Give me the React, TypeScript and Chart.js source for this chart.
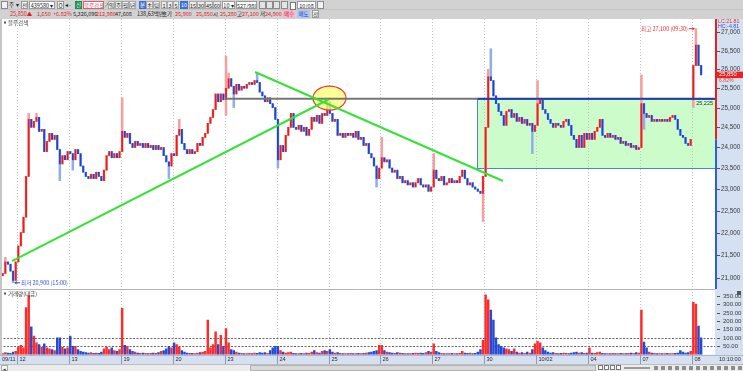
import React, { useEffect, useRef } from "react";
import { Chart, registerables } from "chart.js";

Chart.register(...registerables);

// ---------------- data ----------------
const dayLabels = ["09/11", "12", "13", "19", "20", "23", "24", "25", "26", "27", "30", "10/02", "04", "07", "08"];
const firstOpen = 21000;
// 20-minute closes per trading day
const close0911 = [21050, 21100, 21350, 21300, 21150, 20950, 21350];
const close0912 = [21700, 22000, 22350, 23300, 24700, 24500, 24650, 24750, 24400, 24450, 23900, 24150, 24350, 24200, 24300, 23950, 23600, 23800, 23700, 23900];
const close0913 = [23850, 23700, 23950, 23850, 23550, 23400, 23300, 23250, 23350, 23250, 23400, 23300, 23200, 23450, 23800, 23900, 23750, 23850, 23750, 23900];
const close0919 = [24400, 24250, 24350, 24100, 24000, 24150, 24050, 24100, 24000, 24100, 24000, 24050, 23950, 24050, 23950, 24000, 23800, 23650, 23550, 23850];
const close0920 = [23800, 24300, 24450, 24100, 23950, 23850, 23950, 23850, 23900, 24100, 24050, 24250, 24350, 24600, 24750, 24950, 25350, 25150, 25350, 25200];
const close0923 = [25500, 25750, 25550, 25350, 25600, 25450, 25550, 25500, 25600, 25650, 25600, 25700, 25650, 25400, 25300, 25150, 25250, 25100, 25000, 24700];
const close0924 = [23700, 24050, 23900, 24300, 24500, 24850, 24500, 24450, 24550, 24400, 24500, 24300, 24450, 24750, 24650, 24800, 24600, 24850, 24800, 25150];
const close0925 = [24850, 24650, 24700, 24300, 24350, 24250, 24350, 24300, 24350, 24250, 24400, 24200, 24250, 24050, 24100, 23850, 23750, 23550, 23250, 23500];
const close0926 = [23750, 23650, 23700, 23500, 23400, 23450, 23250, 23300, 23150, 23200, 23100, 23150, 23050, 23150, 23250, 23100, 23050, 23100, 22950, 23050];
const close0927 = [23450, 23250, 23200, 23300, 23100, 23150, 23250, 23150, 23200, 23150, 23300, 23450, 23250, 23100, 23150, 23050, 23000, 22950, 22900, 23300];
const close0930 = [24500, 25800, 25700, 25300, 25100, 24900, 24800, 24550, 24900, 24950, 24750, 24850, 24650, 24750, 24600, 24700, 24550, 24600, 24400, 24550];
const close1002 = [25100, 25200, 24950, 24850, 24700, 24600, 24500, 24600, 24550, 24500, 24650, 24700, 24550, 24300, 24200, 24000, 24300, 24000, 24350, 24200];
const close1004 = [24350, 24200, 24400, 24500, 24700, 24300, 24250, 24350, 24250, 24300, 24200, 24250, 24100, 24150, 24050, 24100, 24000, 24050, 23950, 24000];
const close1007 = [25100, 24850, 24750, 24800, 24650, 24700, 24650, 24700, 24650, 24700, 24650, 24750, 24800, 24700, 24450, 24300, 24250, 24100, 24050, 24200];
const close1008 = [26100, 26650, 26100, 25850];

// [bar index, value]
const openOverrides: [number, number][] = [[267, 25200]];
const wickHighs: [number, number][] = [
  [2, 21450], [11, 24850], [14, 24850], [47, 25250], [69, 24700], [87, 26350], [88, 25900], [99, 25900],
  [126, 25250], [147, 24250], [167, 23850], [188, 26000], [189, 26550], [207, 25700], [247, 25850], [268, 27100],
];
const wickLows: [number, number][] = [
  [5, 20900], [23, 23200], [28, 23450], [65, 23250], [87, 24800], [90, 25000], [107, 23500], [145, 23050],
  [186, 22250], [205, 23850], [248, 24450], [267, 25000],
];

// volume (거래량 대금) per 20-minute bar
const vol0911 = [8, 6, 12, 10, 8, 15, 20];
const vol0912 = [45, 55, 40, 280, 350, 165, 110, 70, 60, 45, 65, 40, 35, 30, 25, 100, 100, 45, 35, 40];
const vol0913 = [110, 50, 50, 30, 20, 15, 12, 10, 12, 8, 10, 8, 15, 35, 45, 30, 40, 25, 20, 30];
const vol0919 = [275, 55, 50, 30, 20, 15, 10, 8, 10, 8, 6, 8, 10, 8, 12, 20, 25, 35, 50, 40];
const vol0920 = [70, 60, 45, 25, 15, 10, 8, 8, 6, 10, 12, 15, 20, 205, 40, 60, 135, 60, 115, 50];
const vol0923 = [155, 70, 30, 25, 15, 10, 8, 6, 5, 8, 6, 10, 8, 12, 10, 12, 8, 25, 40, 50];
const vol0924 = [50, 25, 15, 10, 12, 15, 8, 6, 5, 8, 6, 10, 8, 15, 25, 12, 10, 20, 25, 20];
const vol0925 = [30, 15, 10, 12, 8, 5, 6, 5, 8, 6, 5, 8, 6, 8, 10, 12, 15, 20, 25, 55];
const vol0926 = [55, 25, 15, 12, 10, 8, 12, 10, 8, 6, 5, 6, 8, 10, 8, 10, 8, 12, 20, 15];
const vol0927 = [65, 20, 12, 8, 6, 5, 6, 8, 5, 6, 8, 20, 10, 8, 10, 6, 8, 15, 30, 85];
const vol0930 = [355, 325, 265, 205, 100, 60, 50, 40, 35, 30, 20, 35, 15, 10, 12, 8, 15, 10, 30, 65];
const vol1002 = [80, 70, 40, 25, 15, 10, 12, 8, 6, 8, 10, 8, 6, 10, 12, 15, 10, 12, 8, 10];
const vol1004 = [40, 10, 8, 12, 15, 8, 6, 5, 6, 8, 5, 6, 8, 5, 6, 8, 10, 8, 12, 10];
const vol1007 = [265, 75, 40, 15, 10, 8, 6, 5, 6, 5, 8, 6, 5, 8, 10, 25, 15, 10, 12, 20];
const vol1008 = [310, 300, 170, 100];

const priceTicks = [21000, 21500, 22000, 22500, 23000, 23500, 24000, 24500, 25000, 25500, 26000, 26500, 27000];
const volumeTicks = [50, 100, 150, 200, 250, 300, 350];
const volumeGuides = [50, 100];

// drawings (bar index, price)
const boxTopPrice = 25225;
const boxBottomPrice = 23500;
const boxStartBar = 184.3;
const resistanceStartBar = 87.1;
const upTrendStart = [5.07, 21368];
const upTrendEnd = [126.98, 25207];
const downTrendStart = [98.67, 25926];
const downTrendEnd = [194.19, 23191];
const ellipseCenter = [127.37, 25245];
const lowPoint = [5.5, 20900];
const highPoint = [268.5, 27100];
const lastPrice = 25850;
const prevClose = 24200;

// ---------------- helpers ----------------
const dayCloses = [close0911, close0912, close0913, close0919, close0920, close0923, close0924, close0925, close0926, close0927, close0930, close1002, close1004, close1007, close1008];
const dayVols = [vol0911, vol0912, vol0913, vol0919, vol0920, vol0923, vol0924, vol0925, vol0926, vol0927, vol0930, vol1002, vol1004, vol1007, vol1008];

const dayStart = (d: number) => (d === 0 ? 0 : 7 + 20 * (d - 1));

type Bar = { x: number; o: number; h: number; l: number; c: number; v: number };
function buildBars(): Bar[] {
  const out: Bar[] = [];
  let prev = firstOpen;
  dayCloses.forEach((closes, d) => {
    closes.forEach((c, j) => {
      const i = dayStart(d) + j;
      const ov = openOverrides.find((e) => e[0] === i);
      const o = ov ? ov[1] : prev;
      let h = Math.max(o, c);
      let l = Math.min(o, c);
      const wh = wickHighs.find((e) => e[0] === i);
      if (wh) h = Math.max(h, wh[1]);
      const wl = wickLows.find((e) => e[0] === i);
      if (wl) l = Math.min(l, wl[1]);
      out.push({ x: i + 0.5, o, h, l, c, v: dayVols[d][j] });
      prev = c;
    });
  });
  return out;
}

const X_MIN = 0.452;
const X_MAX = 275.85;
const P_MIN = 20788;
const P_MAX = 27342;
const V_MAX = 383.6;

const UP = "#f01c1c";
const DOWN = "#1e44d4";
const UP_L = "#f5a0a0";
const DOWN_L = "#90aeec";
const AXIS_BG = "#d5e1f0";
const NUM_FONT = '"Liberation Sans", Arial, sans-serif';
const KR_FONT = '"Noto Sans CJK KR", "Liberation Sans", sans-serif';

function seg(ctx: CanvasRenderingContext2D, x1: number, y1: number, x2: number, y2: number) {
  ctx.beginPath();
  ctx.moveTo(x1, y1);
  ctx.lineTo(x2, y2);
  ctx.stroke();
}

const pricePlugin = {
  id: "priceDecor",
  beforeDatasetsDraw(chart: any) {
    const { ctx, chartArea: a, scales } = chart;
    const x = scales.x;
    const y = scales.y;
    ctx.save();
    const bx = x.getPixelForValue(boxStartBar);
    const bt = y.getPixelForValue(boxTopPrice);
    const bb = y.getPixelForValue(boxBottomPrice);
    ctx.fillStyle = "#cdfccb";
    ctx.fillRect(bx, bt, a.right - bx, bb - bt);
    ctx.strokeStyle = "#c2c2c2";
    ctx.lineWidth = 1;
    ctx.setLineDash([1, 2]);
    for (let d = 1; d < dayLabels.length; d++) {
      const gx = Math.round(x.getPixelForValue(dayStart(d))) + 0.5;
      seg(ctx, gx, 0, gx, chart.height);
    }
    ctx.setLineDash([]);
    ctx.strokeStyle = "#4f7df2";
    ctx.lineWidth = 1;
    ctx.strokeRect(Math.round(bx) + 0.5, Math.round(bt) + 0.5, a.right - Math.round(bx), Math.round(bb - bt));
    ctx.restore();
  },
  afterDatasetsDraw(chart: any) {
    const { ctx, chartArea: a, scales } = chart;
    const x = scales.x;
    const y = scales.y;
    ctx.save();
    const ex = x.getPixelForValue(ellipseCenter[0]);
    const ey = y.getPixelForValue(ellipseCenter[1]);
    ctx.beginPath();
    ctx.ellipse(ex, ey, 16.5, 12, 0, 0, Math.PI * 2);
    ctx.fillStyle = "rgba(255,255,120,0.78)";
    ctx.fill();
    ctx.strokeStyle = "#ec3a3a";
    ctx.lineWidth = 1.2;
    ctx.stroke();
    const bx = x.getPixelForValue(boxStartBar);
    const bt = y.getPixelForValue(boxTopPrice);
    const rx = x.getPixelForValue(resistanceStartBar);
    ctx.lineWidth = 2;
    ctx.strokeStyle = "#767676";
    seg(ctx, rx, bt, bx, bt);
    ctx.strokeStyle = "#1f3fa6";
    seg(ctx, bx, bt, a.right, bt);
    ctx.strokeStyle = "#35e335";
    ctx.lineWidth = 2;
    seg(ctx, x.getPixelForValue(upTrendStart[0]), y.getPixelForValue(upTrendStart[1]), x.getPixelForValue(upTrendEnd[0]), y.getPixelForValue(upTrendEnd[1]));
    seg(ctx, x.getPixelForValue(downTrendStart[0]), y.getPixelForValue(downTrendStart[1]), x.getPixelForValue(downTrendEnd[0]), y.getPixelForValue(downTrendEnd[1]));
    ctx.fillStyle = "#2c2c2c";
    ctx.font = `5.5px ${NUM_FONT}`;
    ctx.textAlign = "right";
    ctx.textBaseline = "middle";
    ctx.fillText(boxTopPrice.toLocaleString("en-US"), a.right - 2, bt + 5);
    const hx = x.getPixelForValue(highPoint[0]);
    const hy = y.getPixelForValue(highPoint[1]);
    ctx.fillStyle = "#f03030";
    ctx.strokeStyle = "#f03030";
    ctx.lineWidth = 1;
    ctx.font = `5.5px ${KR_FONT}`;
    ctx.fillText("최고 27,100 (09:30)", hx - 8, hy);
    seg(ctx, hx - 7, hy, hx - 2, hy);
    ctx.beginPath();
    ctx.moveTo(hx - 1, hy);
    ctx.lineTo(hx - 3.5, hy - 1.8);
    ctx.lineTo(hx - 3.5, hy + 1.8);
    ctx.closePath();
    ctx.fill();
    const lx = x.getPixelForValue(lowPoint[0]);
    const ly = y.getPixelForValue(lowPoint[1]);
    ctx.fillStyle = "#3050e0";
    ctx.strokeStyle = "#3050e0";
    ctx.textAlign = "left";
    ctx.fillText("최저 20,900 (15:00)", lx + 8, ly);
    seg(ctx, lx + 2, ly, lx + 7, ly);
    ctx.beginPath();
    ctx.moveTo(lx + 1, ly);
    ctx.lineTo(lx + 3.5, ly - 1.8);
    ctx.lineTo(lx + 3.5, ly + 1.8);
    ctx.closePath();
    ctx.fill();
    ctx.fillStyle = "#555";
    ctx.fillRect(4, 2.5, 2, 2);
    ctx.fillStyle = "#333";
    ctx.fillText("블루검색", 8, 4);
    ctx.restore();
  },
  afterDraw(chart: any) {
    const { ctx, chartArea: a, scales } = chart;
    const y = scales.y;
    ctx.save();
    ctx.fillStyle = AXIS_BG;
    ctx.fillRect(a.right, 0, chart.width - a.right, chart.height);
    const split = y.getPixelForValue(prevClose);
    ctx.lineWidth = 2;
    ctx.strokeStyle = "#ea2020";
    seg(ctx, a.right + 1, 0, a.right + 1, split);
    ctx.strokeStyle = "#2b5de6";
    seg(ctx, a.right + 1, split, a.right + 1, chart.height);
    ctx.font = `6.3px ${NUM_FONT}`;
    ctx.textBaseline = "middle";
    ctx.textAlign = "left";
    ctx.lineWidth = 1;
    priceTicks.forEach((p) => {
      const py = Math.round(y.getPixelForValue(p)) + 0.5;
      ctx.strokeStyle = "#555";
      seg(ctx, a.right + 2, py, a.right + 5, py);
      ctx.fillStyle = "#3a3a3a";
      ctx.fillText(p.toLocaleString("en-US"), a.right + 6, py);
    });
    ctx.font = `5.3px ${NUM_FONT}`;
    ctx.fillStyle = "#e03030";
    ctx.fillText("LC:21.81", a.right + 3, 3);
    ctx.fillStyle = "#3050e0";
    ctx.fillText("HC:-4.81", a.right + 3, 8);
    const ty = y.getPixelForValue(lastPrice);
    ctx.fillStyle = "#f02020";
    ctx.fillRect(a.right + 2, ty - 3.2, 26, 6.4);
    ctx.fillStyle = "#fff";
    ctx.font = `5.8px ${NUM_FONT}`;
    ctx.fillText(lastPrice.toLocaleString("en-US"), a.right + 4, ty);
    ctx.fillStyle = "#e04848";
    ctx.font = `5.2px ${NUM_FONT}`;
    ctx.fillText("6.82%", a.right + 4, ty + 6);
    ctx.restore();
  },
};

const volumePlugin = {
  id: "volDecor",
  beforeDatasetsDraw(chart: any) {
    const { ctx, chartArea: a, scales } = chart;
    const x = scales.x;
    const y = scales.y;
    ctx.save();
    ctx.strokeStyle = "#c2c2c2";
    ctx.lineWidth = 1;
    ctx.setLineDash([1, 2]);
    for (let d = 1; d < dayLabels.length; d++) {
      const gx = Math.round(x.getPixelForValue(dayStart(d))) + 0.5;
      seg(ctx, gx, 0, gx, a.bottom);
    }
    ctx.strokeStyle = "#666";
    ctx.setLineDash([2, 1.5]);
    volumeGuides.forEach((v) => {
      const gy = Math.round(y.getPixelForValue(v)) + 0.5;
      seg(ctx, a.left, gy, a.right, gy);
    });
    ctx.restore();
  },
  afterDraw(chart: any) {
    const { ctx, chartArea: a, scales } = chart;
    const x = scales.x;
    const y = scales.y;
    ctx.save();
    ctx.fillStyle = AXIS_BG;
    ctx.fillRect(a.right, 0, chart.width - a.right, chart.height);
    ctx.fillRect(0, a.bottom, chart.width, chart.height - a.bottom);
    ctx.strokeStyle = "#a9b8cc";
    ctx.lineWidth = 1;
    seg(ctx, 0, Math.round(a.bottom) + 0.5, chart.width, Math.round(a.bottom) + 0.5);
    ctx.strokeStyle = "#b4b4b4";
    seg(ctx, 0, 0.5, a.right, 0.5);
    ctx.textBaseline = "middle";
    ctx.textAlign = "left";
    ctx.font = `6px ${NUM_FONT}`;
    volumeTicks.forEach((v) => {
      const vy = Math.round(y.getPixelForValue(v)) + 0.5;
      ctx.strokeStyle = "#555";
      seg(ctx, a.right + 2, vy, a.right + 5, vy);
      ctx.fillStyle = "#3a3a3a";
      ctx.fillText(v.toFixed(2), a.right + 8, vy);
    });
    ctx.fillStyle = "#555";
    ctx.fillRect(chart.width - 6, 2, 4, 4);
    const rowMid = (a.bottom + chart.height) / 2;
    ctx.font = `5.6px ${NUM_FONT}`;
    dayLabels.forEach((lab, d) => {
      const gx = d === 0 ? 0 : Math.round(x.getPixelForValue(dayStart(d))) + 0.5;
      if (d > 0) {
        ctx.strokeStyle = "#8b9bb3";
        seg(ctx, gx, a.bottom, gx, chart.height);
      }
      ctx.fillStyle = "#2e2e2e";
      ctx.fillText(lab, gx + 2, rowMid);
    });
    ctx.fillText("10:10:00", a.right + 4, rowMid);
    ctx.fillStyle = "#555";
    ctx.fillRect(4, 3.5, 2, 2);
    ctx.fillStyle = "#333";
    ctx.font = `5.5px ${KR_FONT}`;
    ctx.fillText("거래량(대금)", 8, 5);
    ctx.restore();
  },
};

type Item = { t: string; x: number; y: number; w?: number; c?: string; bg?: string; b?: string };
const R1 = 1;
const R2 = 10;
const toolbarItems: Item[] = [
  { t: "", x: 1, y: R1, w: 7, bg: "#eef2f8", b: "#8a8a8a" },
  { t: "주", x: 9, y: R1 },
  { t: "▾", x: 16, y: R1 },
  { t: "전", x: 21, y: R1, w: 7, bg: "#f4f4f4", b: "#9a9a9a" },
  { t: "439580  ▾", x: 29, y: R1, w: 26, bg: "#fff", b: "#9a9a9a" },
  { t: "Q", x: 57, y: R1, w: 7, bg: "#f4f4f4", b: "#9a9a9a" },
  { t: "◂ -", x: 65, y: R1 },
  { t: "신", x: 75, y: R1, w: 7, bg: "#1e8c4e", c: "#fff" },
  { t: "블루검색", x: 83, y: R1, w: 21, bg: "#fff", b: "#c8687c", c: "#e03a5a" },
  { t: "↗", x: 104, y: R1, c: "#1a9a40" },
  { t: "일", x: 108, y: R1, w: 7, bg: "#ececec", b: "#a8a8a8" },
  { t: "주", x: 115, y: R1, w: 7, bg: "#ececec", b: "#a8a8a8" },
  { t: "월", x: 122, y: R1, w: 7, bg: "#ececec", b: "#a8a8a8" },
  { t: "년", x: 129, y: R1, w: 7, bg: "#ececec", b: "#a8a8a8" },
  { t: "분", x: 139, y: R1, w: 7, bg: "#3d6fd8", c: "#fff" },
  { t: "초", x: 146, y: R1, w: 7, bg: "#ececec", b: "#a8a8a8" },
  { t: "틱", x: 153, y: R1, w: 7, bg: "#ececec", b: "#a8a8a8" },
  { t: "1", x: 161, y: R1, w: 6, bg: "#ececec", b: "#a8a8a8" },
  { t: "3", x: 167, y: R1, w: 6, bg: "#ececec", b: "#a8a8a8" },
  { t: "5", x: 173, y: R1, w: 6, bg: "#ececec", b: "#a8a8a8" },
  { t: "10", x: 180, y: R1, w: 8, bg: "#3d6fd8", c: "#fff" },
  { t: "15", x: 189, y: R1, w: 8, bg: "#ececec", b: "#a8a8a8" },
  { t: "30", x: 197, y: R1, w: 8, bg: "#ececec", b: "#a8a8a8" },
  { t: "45", x: 205, y: R1, w: 8, bg: "#ececec", b: "#a8a8a8" },
  { t: "60", x: 213, y: R1, w: 8, bg: "#ececec", b: "#a8a8a8" },
  { t: "10 ▾", x: 222, y: R1, w: 13, bg: "#fff", b: "#9a9a9a" },
  { t: "527/980", x: 236, y: R1, w: 21, bg: "#fff", b: "#9a9a9a" },
  { t: "", x: 259, y: R1, w: 7, bg: "#e4e4e4", b: "#8a8a8a" },
  { t: "", x: 266, y: R1, w: 7, bg: "#e4e4e4", b: "#8a8a8a" },
  { t: "", x: 273, y: R1, w: 7, bg: "#e4e4e4", b: "#8a8a8a" },
  { t: "", x: 281, y: R1, w: 7, bg: "#e4e4e4", b: "#8a8a8a" },
  { t: "", x: 290, y: R1 + 1, w: 6, bg: "#fff", b: "#777" },
  { t: "10/08", x: 297, y: R1, w: 19, bg: "#fff", b: "#9a9a9a" },
  { t: "", x: 317, y: R1, w: 7, bg: "#eef2f8", b: "#8a8a8a" },
  { t: "25,850▲", x: 10, y: R2, c: "#e02020" },
  { t: "1,650", x: 37, y: R2, c: "#e02020" },
  { t: "+6.82%", x: 53, y: R2, c: "#e02020" },
  { t: "5,326,096", x: 73, y: R2 },
  { t: "212,980", x: 96, y: R2, c: "#e02020" },
  { t: "47,608", x: 115, y: R2 },
  { t: "138,63백만", x: 137, y: R2 },
  { t: "호가", x: 162, y: R2 },
  { t: "25,900", x: 175, y: R2, c: "#e02020" },
  { t: "25,850", x: 196, y: R2, c: "#e02020" },
  { t: "시", x: 213, y: R2 },
  { t: "25,280", x: 220, y: R2, c: "#e02020" },
  { t: "고", x: 237, y: R2 },
  { t: "27,100", x: 242, y: R2, c: "#e02020" },
  { t: "저", x: 260, y: R2 },
  { t: "24,900", x: 265, y: R2, c: "#e02020" },
  { t: "매수", x: 283, y: R2, w: 12, bg: "#f6b8c8", c: "#d02040" },
  { t: "매도", x: 297, y: R2, w: 13, bg: "#b0c8f4", c: "#2040c0" },
  { t: "정", x: 312, y: R2, w: 7, bg: "#f4f4f4", b: "#9a9a9a" },
];

function ToolItem({ it }: { it: Item }) {
  return (
    <div
      style={{
        position: "absolute",
        left: it.x,
        top: it.y,
        width: it.w,
        height: 8,
        lineHeight: "8px",
        fontSize: "5.5px",
        color: it.c ?? "#222",
        background: it.bg,
        border: it.b ? `1px solid ${it.b}` : undefined,
        boxSizing: "border-box",
        textAlign: it.w ? "center" : "left",
        whiteSpace: "nowrap",
        overflow: "hidden",
      }}
    >
      {it.t}
    </div>
  );
}

export default function App() {
  const priceRef = useRef<HTMLCanvasElement>(null);
  const volRef = useRef<HTMLCanvasElement>(null);

  useEffect(() => {
    const bars = buildBars();
    const isUp = (b: Bar) => b.c >= b.o;
    const xScale = {
      type: "linear" as const,
      min: X_MIN,
      max: X_MAX,
      display: false,
      offset: false,
      grid: { display: false, offset: false },
    };
    const price = new Chart(priceRef.current!, {
      type: "bar",
      data: {
        datasets: [
          {
            label: "body",
            data: bars.map((b) => ({ x: b.x, y: [b.o, b.c] })) as any,
            backgroundColor: bars.map((b) => (isUp(b) ? UP : DOWN)),
            barThickness: 1.2,
            minBarLength: 1,
            grouped: false,
            order: 0,
          },
          {
            label: "wick",
            data: bars.map((b) => ({ x: b.x, y: [b.l, b.h] })) as any,
            backgroundColor: bars.map((b) => (isUp(b) ? UP_L : DOWN_L)),
            barThickness: 1.9,
            minBarLength: 1,
            grouped: false,
            order: 1,
          },
        ],
      },
      options: {
        animation: false,
        responsive: false,
        events: [],
        layout: { padding: { left: 0, right: 28, top: 1, bottom: 1 } },
        plugins: { legend: { display: false }, tooltip: { enabled: false } },
        scales: {
          x: xScale as any,
          y: { type: "logarithmic", min: P_MIN, max: P_MAX, display: false },
        },
      },
      plugins: [pricePlugin],
    });
    const vol = new Chart(volRef.current!, {
      type: "bar",
      data: {
        datasets: [
          {
            label: "volume",
            data: bars.map((b) => ({ x: b.x, y: b.v })) as any,
            backgroundColor: bars.map((b) => (isUp(b) ? "#ff2a2a" : "#2449d6")),
            barThickness: 1.8,
            minBarLength: 1,
            grouped: false,
          },
        ],
      },
      options: {
        animation: false,
        responsive: false,
        events: [],
        layout: { padding: { left: 0, right: 28, top: 1, bottom: 9.3 } },
        plugins: { legend: { display: false }, tooltip: { enabled: false } },
        scales: {
          x: xScale as any,
          y: { type: "linear", min: 0, max: V_MAX, display: false },
        },
      },
      plugins: [volumePlugin],
    });
    return () => {
      price.destroy();
      vol.destroy();
    };
  }, []);

  return (
    <div
      style={{
        position: "fixed",
        left: 0,
        top: 0,
        width: 743,
        height: 371,
        background: "#fff",
        overflow: "hidden",
        fontFamily: KR_FONT,
      }}
    >
      <div style={{ position: "absolute", left: 0, top: 0, width: 743, height: 19, background: "#d2d2d2" }} />
      <div style={{ position: "absolute", left: 0, top: 9, width: 743, height: 1, background: "#c4c4c4" }} />
      {toolbarItems.map((it, i) => (
        <ToolItem key={i} it={it} />
      ))}
      <canvas ref={priceRef} width={743} height={270} style={{ position: "absolute", left: 0, top: 19 }} />
      <canvas ref={volRef} width={743} height={75} style={{ position: "absolute", left: 0, top: 289 }} />
      <div style={{ position: "absolute", left: 0, top: 19, width: 2, height: 336, background: "#c6c6c6" }} />
      <div style={{ position: "absolute", left: 0, top: 364, width: 743, height: 7, background: "#ececec", borderTop: "1px solid #bdbdbd", boxSizing: "border-box" }} />
      <div style={{ position: "absolute", left: 1, top: 365, width: 7, height: 6, fontSize: "5px", lineHeight: "6px", textAlign: "center", color: "#333", background: "#f6f6f6", border: "1px solid #aaa", boxSizing: "border-box" }}>◂</div>
      <div style={{ position: "absolute", left: 250, top: 365, width: 346, height: 6, background: "#d8d8d8", border: "1px solid #b3b3b3", boxSizing: "border-box" }} />
      {[598, 604, 610, 616].map((bx) => (
        <div key={bx} style={{ position: "absolute", left: bx, top: 365, width: 5, height: 5, background: "#fafafa", border: "1px solid #777", boxSizing: "border-box" }} />
      ))}
      <div style={{ position: "absolute", left: 624, top: 367, width: 26, height: 2, background: "#9a9a9a" }} />
      {[654, 661, 668, 675, 682, 689, 696, 703, 710, 717, 724, 731, 738].map((bx) => (
        <div key={bx} style={{ position: "absolute", left: bx, top: 366, width: 4, height: 4, background: "#8d8d8d" }} />
      ))}
    </div>
  );
}
